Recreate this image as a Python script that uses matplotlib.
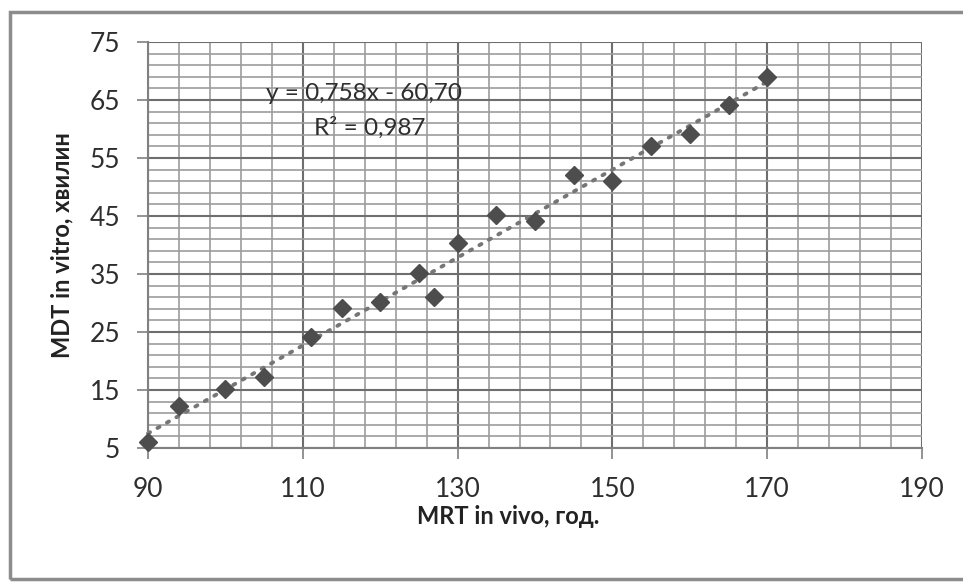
import matplotlib.pyplot as plt
import numpy as np
from matplotlib.patches import Rectangle
from matplotlib.ticker import FixedLocator

plt.rcParams["font.family"] = ["Lato", "DejaVu Sans"]

# MRT in vivo (hours) vs MDT in vitro (minutes)
mrt_in_vivo = [90, 94, 100, 105, 111, 115, 120, 125, 127, 130,
               135, 140, 145, 150, 155, 160, 165, 170]
mdt_in_vitro = [6, 12.3, 15.2, 17.2, 24.1, 29.1, 30.2, 35.2, 31, 40.3,
                45.2, 44.1, 52.1, 51, 57.1, 59.1, 64.1, 69]

x_ticks = [90, 110, 130, 150, 170, 190]
y_ticks = [5, 15, 25, 35, 45, 55, 65, 75]

# linear trend as reported on the chart
slope = 0.758
intercept = -60.70
eq_label = "y = 0,758x - 60,70"
r2_label = "R² = 0,987"

W, H = 963, 582
fig = plt.figure(figsize=(W / 100, H / 100), dpi=100)
ax = fig.add_axes([148 / W, (H - 448) / H, 774 / W, 406 / H])

# outer chart border
fig.patches.append(Rectangle((10 / W, 3 / H), 1.2, (H - 15) / H, transform=fig.transFigure,
                             fill=False, edgecolor="#8c8c8c", lw=2.5))

ax.set_xlim(90, 190)
ax.set_ylim(5, 75)
ax.xaxis.set_major_locator(FixedLocator(x_ticks))
ax.xaxis.set_minor_locator(FixedLocator(np.arange(90, 191, 4)))
ax.yaxis.set_major_locator(FixedLocator(y_ticks))
ax.yaxis.set_minor_locator(FixedLocator(np.arange(5, 76, 2)))

ax.grid(which="major", color="#6e6e6e", lw=1.5)
ax.grid(which="minor", color="#9c9c9c", lw=1.2)
ax.set_axisbelow(True)

for side in ("top", "right"):
    ax.spines[side].set_visible(False)
for side in ("left", "bottom"):
    ax.spines[side].set_color("#808080")
    ax.spines[side].set_linewidth(1.5)

ax.tick_params(which="major", length=8, width=1.2, color="#808080",
               labelsize=19, labelcolor="#2e2e2e")
ax.tick_params(axis="x", which="major", pad=13)
ax.tick_params(axis="y", which="major", pad=12)
ax.tick_params(which="minor", length=0)

xs = np.array([min(mrt_in_vivo), max(mrt_in_vivo)])
ax.plot(xs, slope * xs + intercept, linestyle=(0, (0.6, 2.2)), color="#767676",
        lw=2.8, dash_capstyle="round", zorder=2, clip_on=False)
ax.plot(mrt_in_vivo, mdt_in_vitro, linestyle="none", marker="D", ms=9.5,
        color="#4d4d4d", zorder=3, clip_on=False)

ax.text(105.2, 66.2, eq_label, fontsize=17.5, color="#2e2e2e", va="center")
ax.text(118.6, 60.2, r2_label, fontsize=17.5, color="#2e2e2e", va="center", ha="center")

fig.text(508 / W, 1 - 517 / H, "MRT in vivo, год.", fontsize=17, fontweight="bold",
         color="#222222", ha="center", va="center")
fig.text(62 / W, 1 - 245 / H, "MDT in vitro, хвилин", fontsize=17, fontweight="bold",
         color="#222222", ha="center", va="center", rotation=90)

fig.savefig("out.png", dpi=100)
